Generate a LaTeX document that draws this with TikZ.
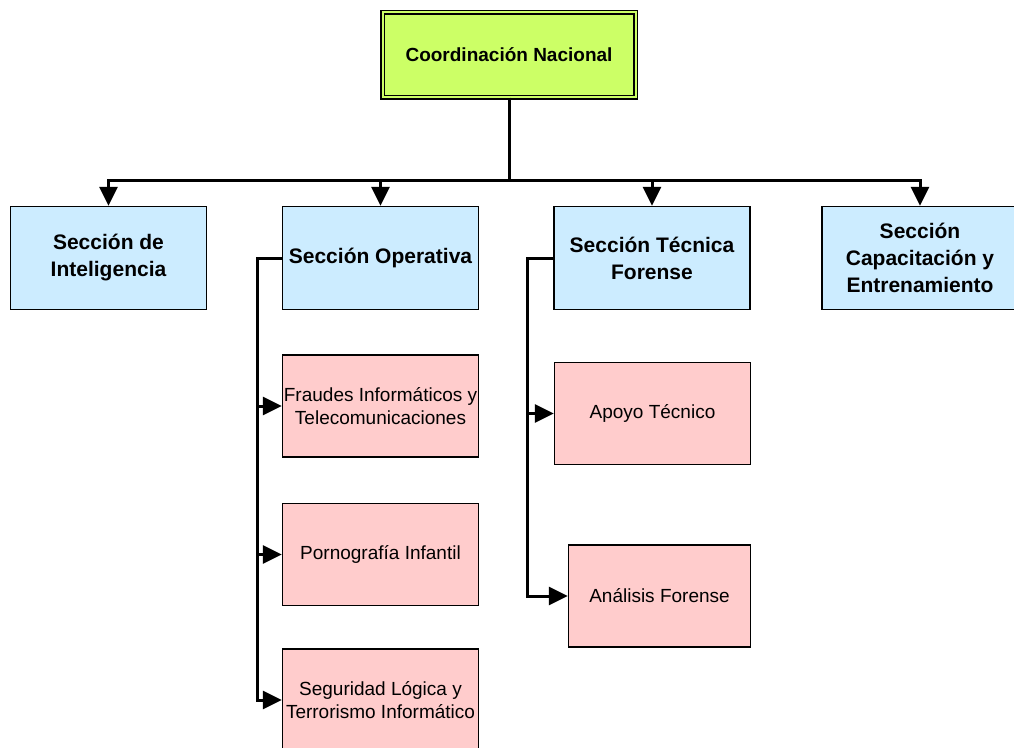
\documentclass[tikz,border=0pt]{standalone}
\usepackage{fontspec}
\setmainfont{Liberation Sans}
\usetikzlibrary{arrows.meta, positioning}
\definecolor{limefill}{HTML}{CCFF66}
\definecolor{seccfill}{HTML}{CCECFF}
\definecolor{unitfill}{HTML}{FFCCCC}
\tikzstyle{head}=[draw,line width=1.5pt,double=limefill,double distance=2pt,fill=limefill,rectangle,
  minimum width=253pt,minimum height=85pt,inner sep=0pt,font=\fontsize{19}{23}\selectfont\bfseries]
\tikzstyle{section}=[draw,line width=1.5pt,fill=seccfill,rectangle,align=center,
  minimum width=196pt,minimum height=103pt,inner sep=0pt,font=\fontsize{21}{27}\selectfont\bfseries]
\tikzstyle{unit}=[draw,line width=1.5pt,fill=unitfill,rectangle,align=center,
  minimum width=196pt,minimum height=102pt,inner sep=0pt,font=\fontsize{19}{23}\selectfont]
\tikzstyle{link}=[line width=3pt,-{Triangle[length=19pt,width=18pt]}]

\begin{document}
\begin{tikzpicture}[x=1pt,y=-1pt]
    \useasboundingbox (0,0) rectangle (1014,747);
    \node[head] (cn) at (509,54.5) {Coordinación Nacional};
    \node[section] (intel) at (108.5,258) {Sección de\\Inteligencia};
    \node[section] (oper) at (380.5,258) {Sección Operativa};
    \node[section] (tecn) at (652,258) {Sección Técnica\\Forense};
    \node[section] (capa) at (920,258) {Sección\\Capacitación y\\Entrenamiento};
    \node[unit] (fraud) at (380.5,406) {Fraudes Informáticos y\\Telecomunicaciones};
    \node[unit] (porno) at (380.5,554.5) {Pornografía Infantil};
    \node[unit] (segur) at (380.5,700) {Seguridad Lógica y\\Terrorismo Informático};
    \node[unit] (apoyo) at (652.5,413.5) {Apoyo Técnico};
    \node[unit, minimum width=182pt] (anali) at (659.5,596) {Análisis Forense};
    \coordinate (bus) at (509,180);
    \draw[link] (cn) -- (bus) -| (intel);
    \draw[link] (cn) -- (bus) -| (oper);
    \draw[link] (cn) -- (bus) -| (tecn);
    \draw[link] (cn) -- (bus) -| (capa);
    \draw[link] (oper.west) -- ++(-24,0) |- (fraud);
    \draw[link] (oper.west) -- ++(-24,0) |- (porno);
    \draw[link] (oper.west) -- ++(-24,0) |- (segur);
    \draw[link] (tecn.west) -- ++(-26,0) |- (apoyo);
    \draw[link] (tecn.west) -- ++(-26,0) |- (anali);
\end{tikzpicture}
\end{document}
